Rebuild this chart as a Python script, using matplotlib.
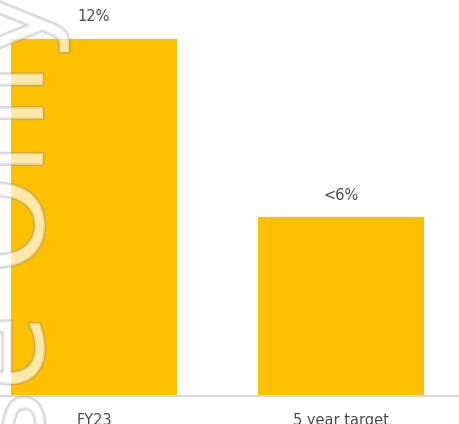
import matplotlib
matplotlib.use("Agg")
import matplotlib.pyplot as plt
import matplotlib.patheffects as pe

categories = ["FY23", "5 year target"]
values = [12, 6]
labels = ["12%", "<6%"]

bar_color = "#FFC000"
text_color = "#4d4d4d"

fig = plt.figure(figsize=(4.6, 4.24), dpi=100)
ax = fig.add_axes([0, 28 / 424, 1, 396 / 424])

x = range(len(categories))
ax.bar(x, values, width=0.672, color=bar_color, zorder=2)

for xi, v, lab in zip(x, values, labels):
    ax.annotate(lab, (xi, v), xytext=(0, 16), textcoords="offset points",
                ha="center", va="center", fontsize=10.5, color=text_color)

ax.set_xlim(-0.3806, 1.4818)
ax.set_ylim(0, 13.31)
ax.set_xticks(list(x))
ax.set_xticklabels(categories, fontsize=10.5, color=text_color)
ax.tick_params(axis="x", length=0, pad=12)
ax.set_yticks([])
for s in ["top", "left", "right"]:
    ax.spines[s].set_visible(False)
ax.spines["bottom"].set_color("#d9d9d9")
ax.spines["bottom"].set_linewidth(1.5)
ax.patch.set_visible(False)

# faint watermark on the left edge
wm = fig.text(43 / 460, 1 + 12 / 424, "Use Only", rotation=90, rotation_mode="anchor",
              ha="right", va="baseline", fontsize=90, fontweight="medium",
              color=(1, 1, 1, 0.42), zorder=10)
wm.set_path_effects([pe.Stroke(linewidth=2.2, foreground=(0.55, 0.55, 0.55, 0.35)), pe.Normal()])

fig.savefig("out.png", dpi=100)
